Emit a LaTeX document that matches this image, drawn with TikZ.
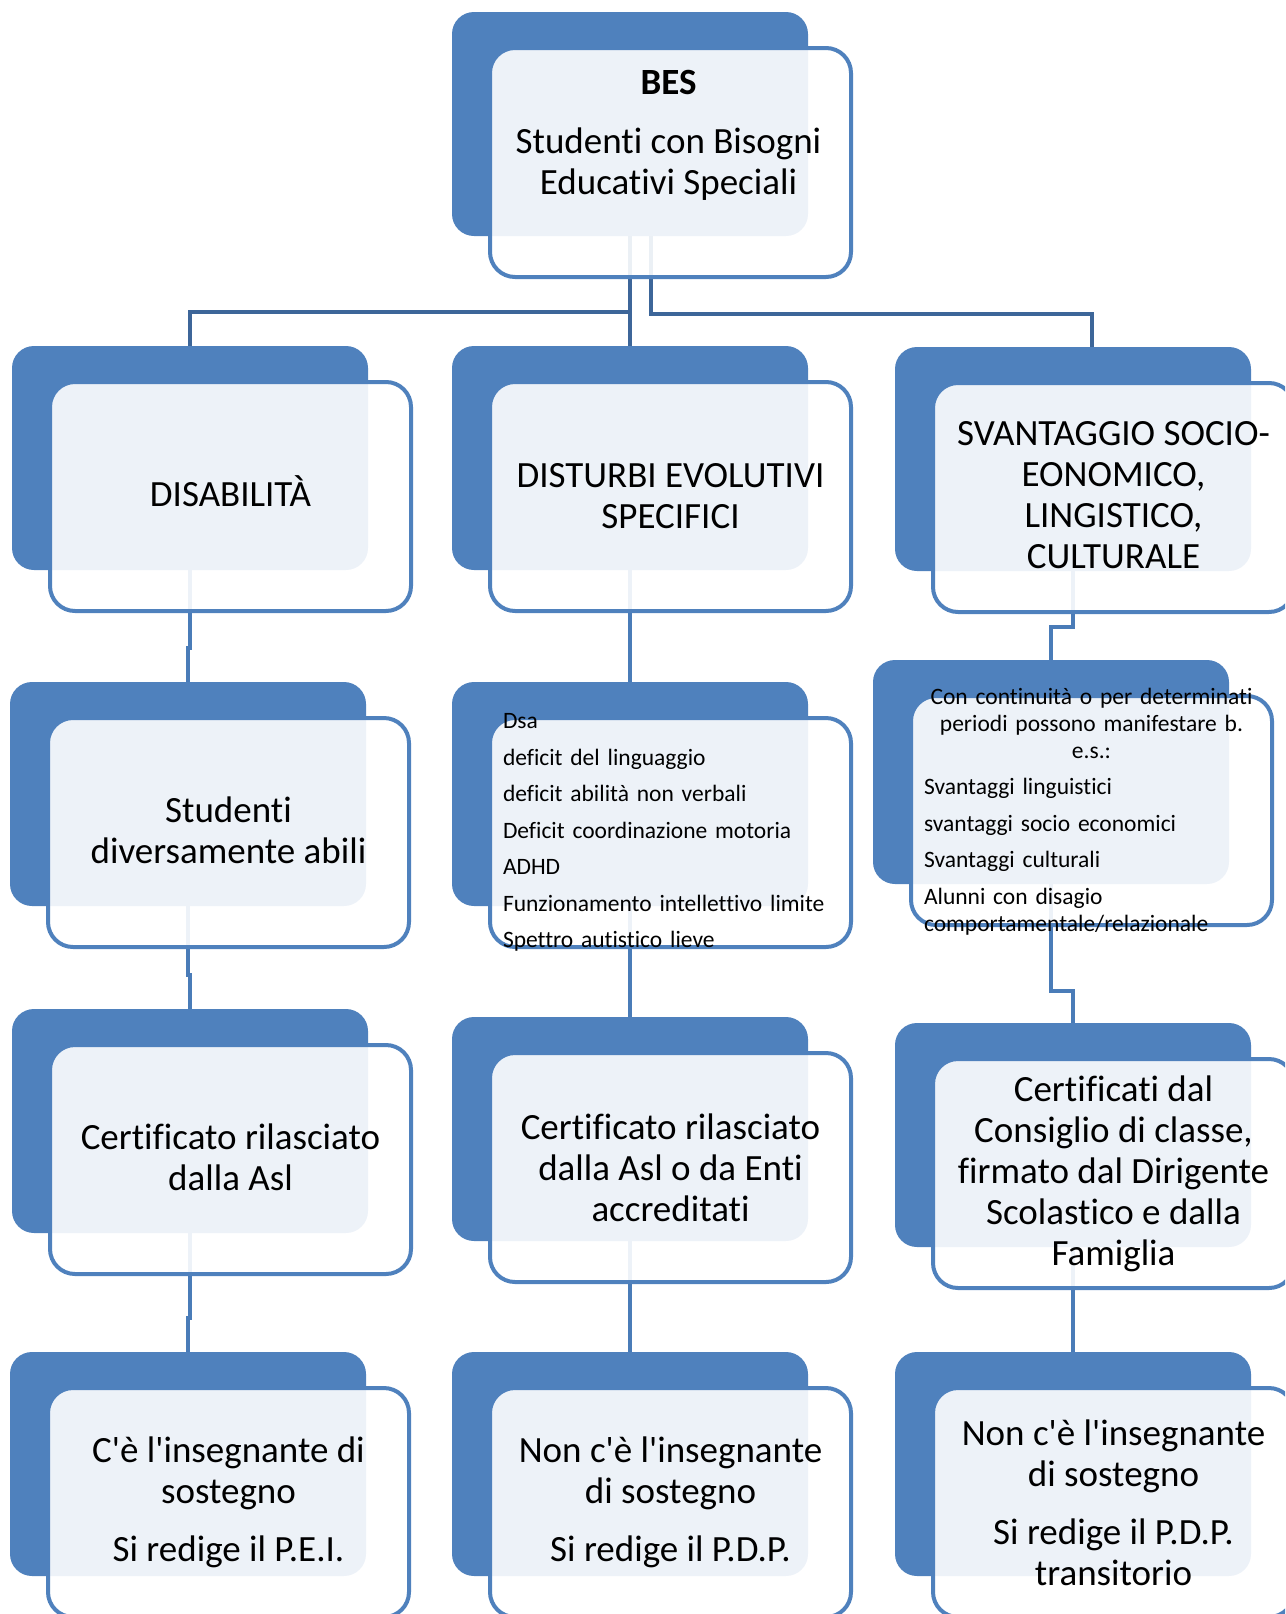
\documentclass[tikz,border=0pt]{standalone}
\usepackage{fontspec}
\setmainfont{Carlito}[Ligatures={NoCommon}]
\usetikzlibrary{calc,positioning}

\definecolor{besblue}{HTML}{4F81BD}
\definecolor{linkblue}{HTML}{4A7CB8}
\definecolor{topblue}{HTML}{3D6699}
\newcommand\besbig{\fontsize{37}{41}\selectfont}
\newcommand\bessmall{\fontsize{23.5}{27}\selectfont}

\tikzset{
  backbox/.style={fill=besblue, rounded corners=22pt, minimum width=356pt, minimum height=224pt, inner sep=0pt, outer sep=0pt},
  frontbox/.style={draw=besblue, line width=4pt, fill=white, fill opacity=0.9, rounded corners=25pt, minimum width=361pt, minimum height=229pt, inner sep=0pt, outer sep=0pt},
  bigtxt/.style={font=\besbig, align=center, inner sep=0pt},
  smalltxt/.style={font=\bessmall, text width=335pt, inner sep=0pt},
  link/.style={draw=linkblue, line width=4.5pt},
  toplink/.style={draw=topblue, line width=4pt},
}

\begin{document}
\begin{tikzpicture}[x=1pt,y=-1pt]
\useasboundingbox (0,0) rectangle (1285,1614);
\clip (0,0) rectangle (1285,1614);

% back boxes
\node[backbox] (bes-b) at (630,124) {};
\node[backbox] (l1-b) at (190,458) {};
\node[backbox] (m1-b) at (630,458) {};
\node[backbox] (r1-b) at (1073,459) {};
\node[backbox] (l2-b) at (188,794) {};
\node[backbox] (m2-b) at (630,794) {};
\node[backbox] (r2-b) at (1051,772) {};
\node[backbox] (l3-b) at (190,1121) {};
\node[backbox] (m3-b) at (630,1129) {};
\node[backbox] (r3-b) at (1073,1135) {};
\node[backbox] (l4-b) at (188,1464) {};
\node[backbox] (m4-b) at (630,1464) {};
\node[backbox] (r4-b) at (1073,1464) {};

% links from BES
\draw[toplink] (bes-b.south) -- (m1-b.north);
\draw[toplink] (bes-b.south) -- ++(0,76) -| (l1-b.north);
\draw[toplink] ($(bes-b.south)+(21,0)$) -- ++(0,78) -| ($(r1-b.north)+(19,0)$);

% links down the columns
\draw[link] (l1-b.south) -- ++(0,78) -| (l2-b.north);
\draw[link] (l2-b.south) -- ++(0,69) -| (l3-b.north);
\draw[link] (l3-b.south) -- ++(0,85) -| (l4-b.north);
\draw[link] (m1-b.south) -- (m2-b.north);
\draw[link] (m2-b.south) -- (m3-b.north);
\draw[link] (m3-b.south) -- (m4-b.north);
\draw[link] (r1-b.south) -- ++(0,56) -| (r2-b.north);
\draw[link] (r2-b.south) -- ++(0,107) -| (r3-b.north);
\draw[link] (r3-b.south) -- (r4-b.north);

% front boxes
\node[frontbox] (bes) at ($(bes-b)+(40.5,38.5)$) {};
\node[frontbox] (l1) at ($(l1-b)+(40.5,38.5)$) {};
\node[frontbox] (m1) at ($(m1-b)+(40.5,38.5)$) {};
\node[frontbox] (r1) at ($(r1-b)+(40.5,38.5)$) {};
\node[frontbox] (l2) at ($(l2-b)+(40.5,38.5)$) {};
\node[frontbox] (m2) at ($(m2-b)+(40.5,38.5)$) {};
\node[frontbox] (r2) at ($(r2-b)+(40.5,38.5)$) {};
\node[frontbox] (l3) at ($(l3-b)+(40.5,38.5)$) {};
\node[frontbox] (m3) at ($(m3-b)+(40.5,38.5)$) {};
\node[frontbox] (r3) at ($(r3-b)+(40.5,38.5)$) {};
\node[frontbox] (l4) at ($(l4-b)+(40.5,38.5)$) {};
\node[frontbox] (m4) at ($(m4-b)+(40.5,38.5)$) {};
\node[frontbox] (r4) at ($(r4-b)+(40.5,38.5)$) {};

% texts
\node[bigtxt] (bes-t) at ($(bes)+(-2,-27)$) {\textbf{BES}\\[18pt] Studenti con Bisogni\\ Educativi Speciali};
\node[bigtxt] (l1-t) at ($(l1)+(0,-5)$) {DISABILITÀ};
\node[bigtxt] (m1-t) at (m1) {DISTURBI EVOLUTIVI\\ SPECIFICI};
\node[bigtxt] (r1-t) at ($(r1)+(0,-2)$) {SVANTAGGIO SOCIO-\\ EONOMICO,\\ LINGISTICO,\\ CULTURALE};
\node[bigtxt] (l2-t) at ($(l2)+(0,-2)$) {Studenti\\ diversamente abili};
\node[smalltxt] (m2-t) at (m2) {\raggedright Dsa\\[9.5pt] deficit del linguaggio\\[9.5pt] deficit abilità non verbali\\[9.5pt] Deficit coordinazione motoria\\[9.5pt] ADHD\\[9.5pt] Funzionamento intellettivo limite\\[9.5pt] Spettro autistico lieve};
\node[smalltxt] (r2-t) at ($(r2)+(0,1)$) {{\centering Con continuità o per determinati\\ periodi possono manifestare b.\\ e.s.:\par}\vspace{9.5pt}\raggedright Svantaggi linguistici\\[9.5pt] svantaggi socio economici\\[9.5pt] Svantaggi culturali\\[9.5pt] Alunni con disagio\\ comportamentale/relazionale};
\node[bigtxt] (l3-t) at ($(l3)+(0,-2)$) {Certificato rilasciato\\ dalla Asl};
\node[bigtxt] (m3-t) at (m3) {Certificato rilasciato\\ dalla Asl o da Enti\\ accreditati};
\node[bigtxt] (r3-t) at (r3) {Certificati dal\\ Consiglio di classe,\\ firmato dal Dirigente\\ Scolastico e dalla\\ Famiglia};
\node[bigtxt] (l4-t) at (l4) {C\textquotesingle è l\textquotesingle insegnante di\\ sostegno\\[17pt] Si redige il P.E.I.};
\node[bigtxt] (m4-t) at (m4) {Non c\textquotesingle è l\textquotesingle insegnante\\ di sostegno\\[17pt] Si redige il P.D.P.};
\node[bigtxt] (r4-t) at (r4) {Non c\textquotesingle è l\textquotesingle insegnante\\ di sostegno\\[17pt] Si redige il P.D.P.\\ transitorio};
\end{tikzpicture}
\end{document}
